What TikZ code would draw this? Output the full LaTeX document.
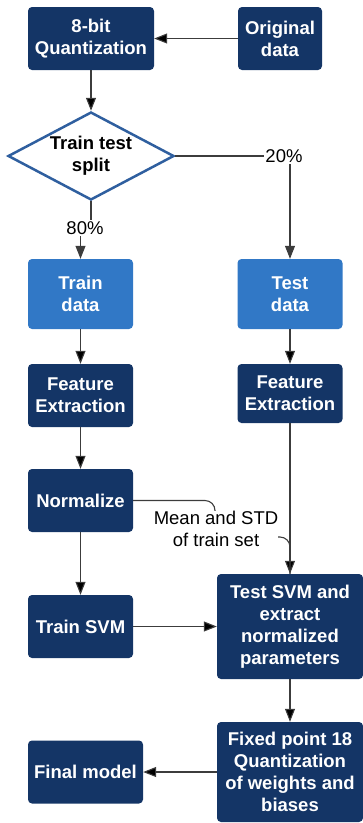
\documentclass[tikz,border=0pt]{standalone}
\usepackage{fontspec}
\setmainfont{Liberation Sans}
\usetikzlibrary{arrows.meta,shapes.geometric}

\definecolor{navy}{HTML}{143566}
\definecolor{lightblue}{HTML}{3178C6}
\definecolor{splitblue}{HTML}{2F5F9F}
\definecolor{linegray}{HTML}{3C3C3C}

\begin{document}
\begin{tikzpicture}[x=1pt,y=1pt,>={Triangle[length=13pt,width=10pt]},
    font=\fontsize{18.5}{22}\selectfont,
    block/.style={rectangle, rounded corners=4pt, fill=navy, text=white,
      font=\fontsize{18.5}{22}\selectfont\bfseries, align=center,
      inner sep=0pt, minimum width=105pt, minimum height=63pt},
    datablock/.style={block, fill=lightblue, minimum height=70pt},
    decision/.style={diamond, draw=splitblue, line width=2.5pt, fill=white,
      font=\fontsize{18.5}{22}\selectfont\bfseries, align=center,
      inner sep=0pt, aspect=1.89, minimum width=166pt, minimum height=88pt},
    conn/.style={->, draw=linegray, line width=1.1pt},
    lbl/.style={fill=white, inner sep=1pt, text=black}]
  \useasboundingbox (0,0) rectangle (363,-823);

  % top row
  \node[block, minimum width=126pt] (quant) at (91,-38.5) {8-bit\\Quantization};
  \node[block, minimum width=84pt] (orig) at (280,-38.5) {Original\\data};
  \node[decision] (split) at (91,-156) {Train test\\split};

  % train / test columns
  \node[datablock] (traindata) at (80.5,-294) {Train\\data};
  \node[datablock] (testdata) at (290,-294) {Test\\data};
  \node[block] (trainfe) at (80.5,-395.5) {Feature\\Extraction};
  \node[block, minimum height=59pt] (testfe) at (290,-393.5) {Feature\\Extraction};
  \node[block] (norm) at (80.5,-500.5) {Normalize};
  \node[block] (trainsvm) at (80.5,-626.5) {Train SVM};
  \node[block, minimum width=146pt, minimum height=105pt] (testsvm) at (290,-626.5)
    {Test SVM and\\extract\\normalized\\parameters};
  \node[block, minimum width=146pt, minimum height=100pt] (fixq) at (290,-772)
    {Fixed point 18\\Quantization\\of weights and\\biases};
  \node[block, minimum width=115pt] (final) at (85.5,-772) {Final model};

  \coordinate (meanpt) at (215,-537);

  \path[conn] (orig) edge (quant)
    (quant) edge (split)
    (traindata) edge (trainfe)
    (testdata) edge (testfe)
    (trainfe) edge (norm)
    (norm) edge (trainsvm)
    (trainsvm) edge (testsvm)
    (testfe) edge (testsvm)
    (testsvm) edge (fixq)
    (fixq) edge (final);

  \draw[conn] (split.east) -| node[lbl, pos=0.5, xshift=-6pt] {20\%} (testdata.north);
  \draw[conn] (split.south) -- ++(0,-28) -| (traindata.north);
  \node[lbl] (p80) at (85,-228) {80\%};
  \draw[draw=linegray, line width=1.1pt, rounded corners=10pt]
    (norm.east) -| (meanpt) -| (testsvm.north);
  \node[lbl, align=center, inner sep=0pt] (meanstd) at (216,-529)
    {Mean and STD\\of train set};
\end{tikzpicture}
\end{document}
